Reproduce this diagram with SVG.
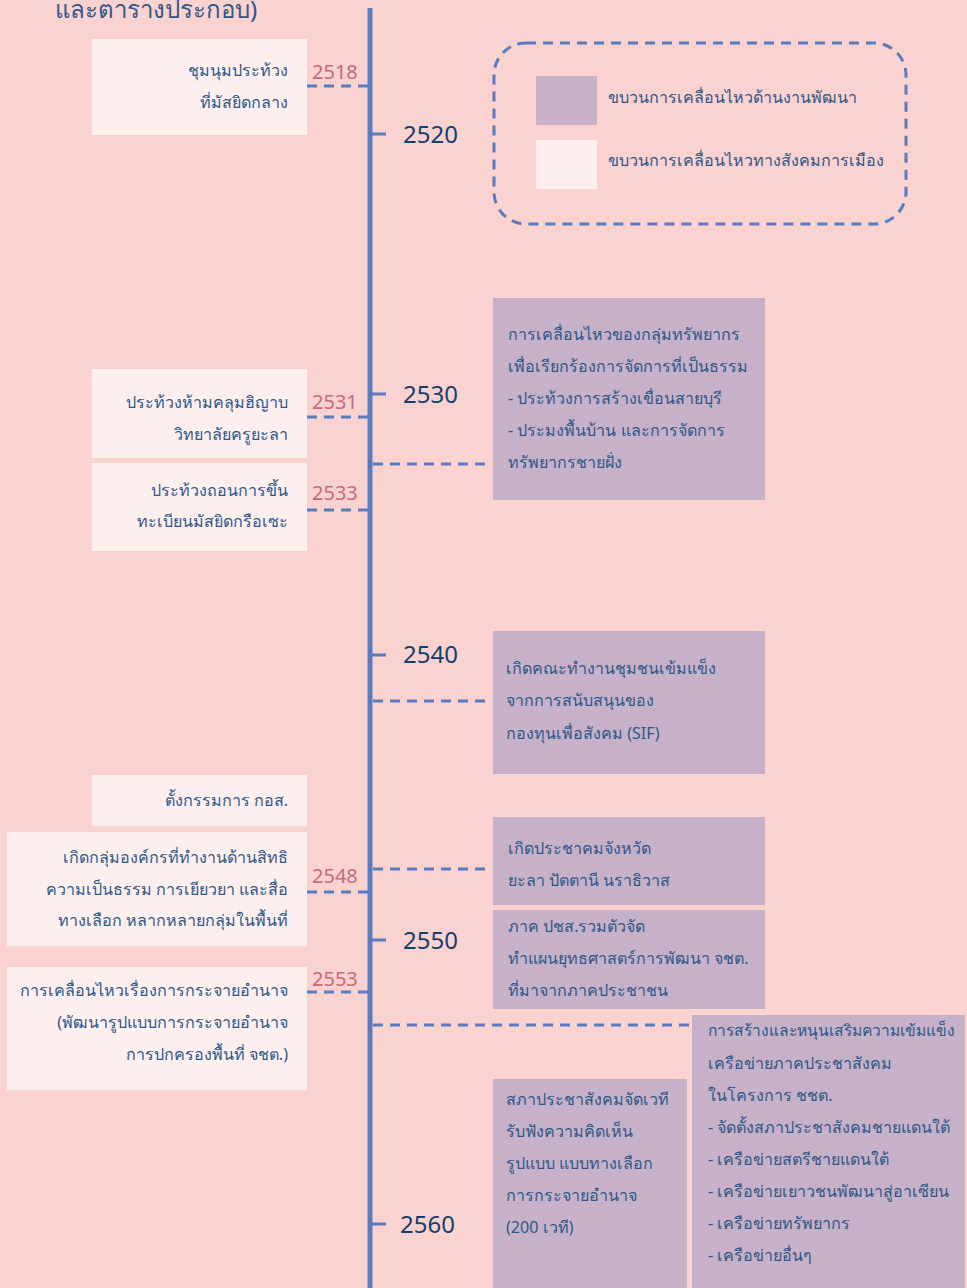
<svg xmlns="http://www.w3.org/2000/svg" width="967" height="1288" viewBox="0 0 967 1288">
<style>
text{font-family:"Noto Sans","DejaVu Sans",sans-serif;}
.t{font-size:16.1px;fill:#2F5888;}
.r{text-anchor:end;}
.yr{font-size:24px;fill:#143F6C;}
.sy{font-size:20px;fill:#C46A80;}
.pl{fill:#C6B1C9;}
.lt{fill:#FCEFEE;}
.dash{stroke:#5B7BC0;stroke-width:3;stroke-dasharray:10 7;fill:none;}
.tick{stroke:#5B7BC0;stroke-width:3;}
</style>
<rect width="967" height="1288" fill="#FAD2D0"/>
<text x="55" y="18" style="font-size:24px;fill:#2F5888">และตารางประกอบ)</text>

<g id="connectors">
<line x1="370" y1="8" x2="370" y2="1288" stroke="#5B7BC0" stroke-width="5"/>
<line class="tick" x1="370" y1="134" x2="386" y2="134"/>
<line class="tick" x1="370" y1="394" x2="386" y2="394"/>
<line class="tick" x1="370" y1="655" x2="386" y2="655"/>
<line class="tick" x1="370" y1="940" x2="386" y2="940"/>
<line class="tick" x1="370" y1="1224" x2="386" y2="1224"/>
<line class="dash" x1="307" y1="86" x2="368" y2="86"/>
<line class="dash" x1="307" y1="417" x2="368" y2="417"/>
<line class="dash" x1="307" y1="510" x2="368" y2="510"/>
<line class="dash" x1="307" y1="892" x2="368" y2="892"/>
<line class="dash" x1="307" y1="992" x2="368" y2="992"/>
<line class="dash" x1="373" y1="464" x2="490" y2="464"/>
<line class="dash" x1="373" y1="701" x2="490" y2="701"/>
<line class="dash" x1="373" y1="869" x2="490" y2="869"/>
<line class="dash" x1="373" y1="1025" x2="692" y2="1025"/>
</g>

<g id="years">
<text class="yr" x="403" y="143">2520</text>
<text class="yr" x="403" y="403">2530</text>
<text class="yr" x="403" y="663">2540</text>
<text class="yr" x="403" y="949">2550</text>
<text class="yr" x="400" y="1233">2560</text>
<text class="sy" x="312" y="79">2518</text>
<text class="sy" x="312" y="409">2531</text>
<text class="sy" x="312" y="500">2533</text>
<text class="sy" x="312" y="883">2548</text>
<text class="sy" x="312" y="986">2553</text>
</g>

<g id="legend">
<rect x="494" y="43" width="412" height="181" rx="32" class="dash"/>
<rect class="pl" x="536" y="76" width="61" height="49"/>
<rect class="lt" x="536" y="140" width="61" height="49"/>
<text class="t" x="608" y="103">ขบวนการเคลื่อนไหวด้านงานพัฒนา</text>
<text class="t" x="608" y="166">ขบวนการเคลื่อนไหวทางสังคมการเมือง</text>
</g>

<g id="n2518">
<rect class="lt" x="92" y="39" width="215" height="96"/>
<text class="t r" x="288" y="76">ชุมนุมประท้วง</text>
<text class="t r" x="288" y="108">ที่มัสยิดกลาง</text>
</g>
<g id="n2531">
<rect class="lt" x="92" y="369" width="215" height="89"/>
<text class="t r" x="288" y="408">ประท้วงห้ามคลุมฮิญาบ</text>
<text class="t r" x="288" y="440">วิทยาลัยครูยะลา</text>
</g>
<g id="n2533">
<rect class="lt" x="92" y="463" width="215" height="88"/>
<text class="t r" x="288" y="496">ประท้วงถอนการขึ้น</text>
<text class="t r" x="288" y="527">ทะเบียนมัสยิดกรือเซะ</text>
</g>
<g id="nkos">
<rect class="lt" x="92" y="775" width="215" height="51"/>
<text class="t r" x="288" y="806">ตั้งกรรมการ กอส.</text>
</g>
<g id="n2548">
<rect class="lt" x="7" y="832" width="300" height="114"/>
<text class="t r" x="288" y="863">เกิดกลุ่มองค์กรที่ทำงานด้านสิทธิ</text>
<text class="t r" x="288" y="895">ความเป็นธรรม การเยียวยา และสื่อ</text>
<text class="t r" x="288" y="926">ทางเลือก หลากหลายกลุ่มในพื้นที่</text>
</g>
<g id="n2553">
<rect class="lt" x="7" y="967" width="300" height="123"/>
<text class="t r" x="288" y="996">การเคลื่อนไหวเรื่องการกระจายอำนาจ</text>
<text class="t r" x="288" y="1028">(พัฒนารูปแบบการกระจายอำนาจ</text>
<text class="t r" x="288" y="1060">การปกครองพื้นที่ จชต.)</text>
</g>

<g id="nres">
<rect class="pl" x="493" y="298" width="272" height="202"/>
<text class="t" x="508" y="340">การเคลื่อนไหวของกลุ่มทรัพยากร</text>
<text class="t" x="508" y="372">เพื่อเรียกร้องการจัดการที่เป็นธรรม</text>
<text class="t" x="508" y="404">- ประท้วงการสร้างเขื่อนสายบุรี</text>
<text class="t" x="508" y="436">- ประมงพื้นบ้าน และการจัดการ</text>
<text class="t" x="508" y="468">ทรัพยากรชายฝั่ง</text>
</g>
<g id="nsif">
<rect class="pl" x="493" y="631" width="272" height="143"/>
<text class="t" x="506" y="674">เกิดคณะทำงานชุมชนเข้มแข็ง</text>
<text class="t" x="506" y="706">จากการสนับสนุนของ</text>
<text class="t" x="506" y="739">กองทุนเพื่อสังคม (SIF)</text>
</g>
<g id="nprov">
<rect class="pl" x="493" y="817" width="272" height="88"/>
<text class="t" x="508" y="854">เกิดประชาคมจังหวัด</text>
<text class="t" x="508" y="886">ยะลา ปัตตานี นราธิวาส</text>
</g>
<g id="nplan">
<rect class="pl" x="493" y="910" width="272" height="99"/>
<text class="t" x="508" y="932">ภาค ปชส.รวมตัวจัด</text>
<text class="t" x="508" y="964">ทำแผนยุทธศาสตร์การพัฒนา จชต.</text>
<text class="t" x="508" y="996">ที่มาจากภาคประชาชน</text>
</g>
<g id="nnet">
<rect class="pl" x="692" y="1015" width="273" height="273"/>
<text class="t" x="708" y="1036" style="font-size:15.6px">การสร้างและหนุนเสริมความเข้มแข็ง</text>
<text class="t" x="708" y="1069">เครือข่ายภาคประชาสังคม</text>
<text class="t" x="708" y="1101">ในโครงการ ชชต.</text>
<text class="t" x="708" y="1133">- จัดตั้งสภาประชาสังคมชายแดนใต้</text>
<text class="t" x="708" y="1165">- เครือข่ายสตรีชายแดนใต้</text>
<text class="t" x="708" y="1197">- เครือข่ายเยาวชนพัฒนาสู่อาเซียน</text>
<text class="t" x="708" y="1229">- เครือข่ายทรัพยากร</text>
<text class="t" x="708" y="1261">- เครือข่ายอื่นๆ</text>
</g>
<g id="nforum">
<rect class="pl" x="493" y="1079" width="194" height="209"/>
<text class="t" x="506" y="1105">สภาประชาสังคมจัดเวที</text>
<text class="t" x="506" y="1137">รับฟังความคิดเห็น</text>
<text class="t" x="506" y="1169">รูปแบบ แบบทางเลือก</text>
<text class="t" x="506" y="1201">การกระจายอำนาจ</text>
<text class="t" x="506" y="1233">(200 เวที)</text>
</g>
</svg>
